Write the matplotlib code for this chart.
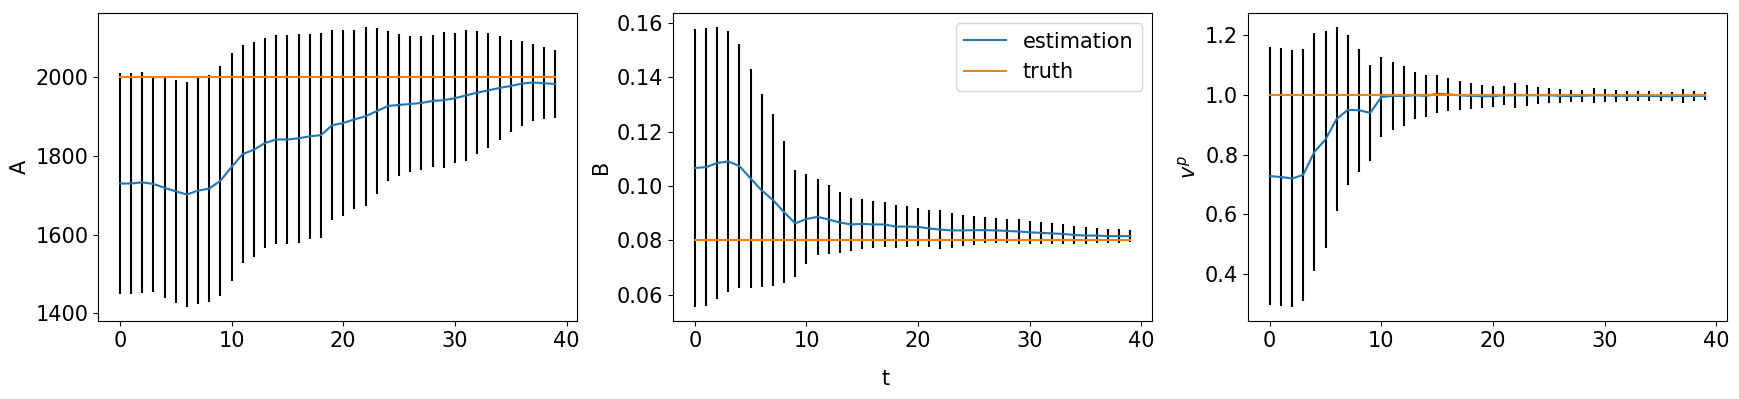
import numpy as np
import matplotlib
matplotlib.use('Agg')
import matplotlib.pyplot as plt

t = np.arange(40)

# parameter A
A_mean = [1730, 1730, 1733, 1729, 1719, 1710, 1702, 1712, 1717, 1737,
          1772, 1805, 1816, 1833, 1842, 1842, 1845, 1850, 1853, 1878,
          1884, 1893, 1901, 1914, 1927, 1930, 1932, 1935, 1940, 1942,
          1947, 1954, 1961, 1967, 1973, 1978, 1984, 1987, 1985, 1983]
A_err = [280, 281, 281, 275, 281, 283, 286, 288, 288, 292,
         290, 277, 273, 267, 266, 266, 265, 261, 261, 242,
         236, 228, 227, 211, 191, 181, 173, 170, 167, 173,
         165, 167, 156, 146, 132, 117, 108, 98, 92, 86]
A_true = 2000

# parameter B
B_mean = [0.1066, 0.1069, 0.1084, 0.1090, 0.1073, 0.1027, 0.0983, 0.0948, 0.0903, 0.0862,
          0.0878, 0.0886, 0.0876, 0.0865, 0.0858, 0.0860, 0.0858, 0.0858, 0.0850, 0.0850,
          0.0849, 0.0843, 0.0839, 0.0836, 0.0836, 0.0837, 0.0837, 0.0836, 0.0834, 0.0832,
          0.0829, 0.0827, 0.0825, 0.0823, 0.0819, 0.0817, 0.0817, 0.0815, 0.0815, 0.0815]
B_err = [0.0512, 0.0512, 0.0501, 0.0482, 0.0450, 0.0404, 0.0355, 0.0317, 0.0262, 0.0197,
         0.0165, 0.0141, 0.0127, 0.0112, 0.0097, 0.0092, 0.0086, 0.0082, 0.0079, 0.0075,
         0.0069, 0.0068, 0.0071, 0.0065, 0.0057, 0.0053, 0.0049, 0.0046, 0.0044, 0.0046,
         0.0042, 0.0041, 0.0038, 0.0036, 0.0033, 0.0031, 0.0027, 0.0025, 0.0025, 0.0022]
B_true = 0.08

# parameter v^p
V_mean = [0.728, 0.725, 0.720, 0.732, 0.809, 0.851, 0.920, 0.950, 0.949, 0.940,
          0.993, 0.997, 0.997, 0.999, 0.997, 1.004, 1.002, 0.999, 0.997, 0.996,
          0.996, 0.999, 0.999, 0.999, 0.999, 0.999, 0.997, 0.996, 0.997, 0.999,
          0.999, 0.997, 0.997, 0.997, 0.997, 0.996, 0.996, 0.997, 0.997, 0.997]
V_err = [0.432, 0.432, 0.431, 0.422, 0.399, 0.364, 0.308, 0.251, 0.206, 0.161,
         0.133, 0.114, 0.100, 0.078, 0.070, 0.063, 0.055, 0.048, 0.043, 0.038,
         0.035, 0.031, 0.041, 0.035, 0.028, 0.025, 0.023, 0.021, 0.020, 0.025,
         0.021, 0.020, 0.016, 0.016, 0.016, 0.015, 0.015, 0.023, 0.016, 0.013]
V_true = 1.0

plt.rcParams['font.size'] = 15

fig, axs = plt.subplots(1, 3, figsize=(17.39, 3.99), dpi=100)
fig.subplots_adjust(left=0.0564, right=0.9931, bottom=0.1955, top=0.9674, wspace=0.2)

params = [(A_mean, A_err, A_true, 'A'),
          (B_mean, B_err, B_true, 'B'),
          (V_mean, V_err, V_true, r'$v^p$')]

for ax, (m, e, tr, name) in zip(axs, params):
    ax.errorbar(t, m, yerr=e, fmt='none', ecolor='k', elinewidth=1.5)
    ax.plot(t, m, color='C0', label='estimation')
    ax.plot(t, tr * np.ones(len(t)), color='C1', label='truth')
    ax.set_ylabel(name)
    ax.set_xticks([0, 10, 20, 30, 40])

axs[1].legend(loc='upper right')
fig.text(0.509, 0.05, 't', ha='center', va='center', fontsize=15)

plt.savefig('out.png')
